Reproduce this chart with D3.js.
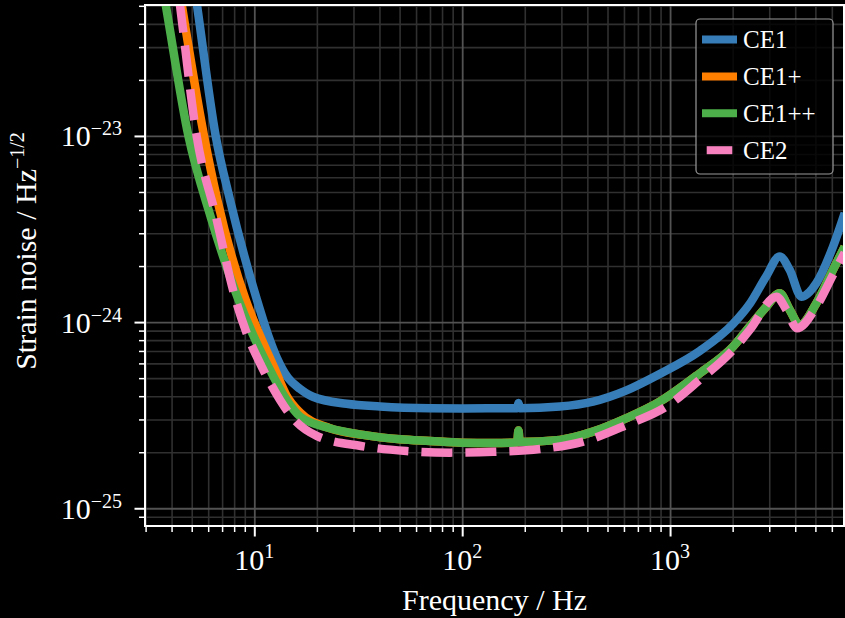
<!DOCTYPE html>
<html>
<head>
<meta charset="utf-8">
<script src="https://cdn.jsdelivr.net/npm/d3@7"></script>
<style>
    html, body { margin: 0; padding: 0; background: #000; }
    svg { display: block; }
    text { font-family: "Liberation Serif", "DejaVu Serif", serif; fill: #fff; }
</style>
</head>
<body>
<div id="chart"></div>
<script>
// --- data (frequency in Hz, strain ASD in Hz^-1/2) ---
const ce1Freq = [4.9, 5.3, 6.52, 7.64, 10.3, 11.64, 12.85, 14.52, 16.59, 19.15, 27.8, 40.2, 70, 100, 176, 184, 186.5, 189, 295, 426, 617, 892, 1389, 2009, 2416, 2907, 3365, 3763, 4282, 5055, 6077, 6918];
const ce1Asd = [9.3e-23, 5.05e-23, 1.0e-23, 4.53e-24, 1.315e-24, 8.54e-25, 6.42e-25, 5.02e-25, 4.38e-25, 3.97e-25, 3.64e-25, 3.52e-25, 3.44e-25, 3.43e-25, 3.45e-25, 3.45e-25, 3.68e-25, 3.45e-25, 3.52e-25, 3.74e-25, 4.30e-25, 5.27e-25, 7.0e-25, 9.78e-25, 1.252e-24, 1.77e-24, 2.25e-24, 1.907e-24, 1.37e-24, 1.62e-24, 2.54e-24, 3.85e-24];

const ce1pFreq = [4.2, 4.48, 5.73, 6.64, 9.09, 10.53, 12.4, 14.31, 16.59, 23.1, 33.4, 50.2, 70, 100, 140, 176, 184, 186.5, 189, 295, 426, 617, 892, 1389, 2009, 2416, 2907, 3365, 3763, 4204, 5055, 6077, 6918];
const ce1pAsd = [7.98e-23, 5.05e-23, 1.0e-23, 4.53e-24, 1.315e-24, 8.72e-25, 5.77e-25, 4.02e-25, 3.27e-25, 2.69e-25, 2.48e-25, 2.35e-25, 2.30e-25, 2.25e-25, 2.24e-25, 2.25e-25, 2.26e-25, 2.62e-25, 2.27e-25, 2.33e-25, 2.58e-25, 3.05e-25, 3.74e-25, 5.31e-25, 7.38e-25, 9.46e-25, 1.211e-24, 1.43e-24, 1.163e-24, 9.66e-25, 1.263e-24, 1.907e-24, 2.54e-24];

const ce1ppFreq = [3.52, 3.75, 4.82, 6.16, 8.40, 9.78, 11.68, 14.3, 16.6, 23.1, 33.4, 50.2, 70, 100, 140, 176, 184, 186.5, 189, 295, 426, 617, 892, 1389, 2009, 2416, 2907, 3365, 3763, 4204, 5055, 6077, 6918];
const ce1ppAsd = [7.6e-23, 5.05e-23, 1.0e-23, 3.69e-24, 1.315e-24, 8.72e-25, 5.77e-25, 3.82e-25, 3.11e-25, 2.69e-25, 2.48e-25, 2.35e-25, 2.30e-25, 2.25e-25, 2.24e-25, 2.25e-25, 2.26e-25, 2.62e-25, 2.27e-25, 2.33e-25, 2.58e-25, 3.05e-25, 3.74e-25, 5.31e-25, 7.38e-25, 9.46e-25, 1.211e-24, 1.43e-24, 1.163e-24, 9.66e-25, 1.263e-24, 1.907e-24, 2.54e-24];

const ce2Freq = [4.11, 4.39, 5.28, 6.54, 8.14, 9.19, 10.85, 13.3, 15.1, 19.95, 32.6, 54.0, 87.3, 141, 236, 382, 617, 962, 1389, 2009, 2416, 3248, 3628, 4079, 5055, 6077, 6918];
const ce2Asd = [9.0e-23, 5.05e-23, 1.0e-23, 3.69e-24, 1.315e-24, 8.72e-25, 5.77e-25, 3.82e-25, 3.11e-25, 2.45e-25, 2.16e-25, 2.03e-25, 1.99e-25, 2.01e-25, 2.08e-25, 2.28e-25, 2.80e-25, 3.52e-25, 4.90e-25, 7.10e-25, 9.08e-25, 1.37e-24, 1.163e-24, 9.27e-25, 1.21e-24, 1.793e-24, 2.36e-24];

const seriesNames = ['CE1', 'CE1+', 'CE1++', 'CE2'];
const seriesColors = ['#377eb8', '#ff7f00', '#4daf4a', '#f781bf'];
const seriesDashed = [false, false, false, true];

const xMajorTicks = [10, 100, 1000];
const xTickExps = ['1', '2', '3'];
const yMajorTicks = [1e-25, 1e-24, 1e-23];
const yTickExps = ['\u221225', '\u221224', '\u221223'];

const xLabel = 'Frequency / Hz';
const yLabel = 'Strain noise / Hz';
const yLabelExp = '\u22121/2';

// --- chart ---
const width = 845;
const height = 618;
const plot = {left: 145, right: 844, top: 5, bottom: 526};

let mySeries = [
    d3.zip(ce1Freq, ce1Asd),
    d3.zip(ce1pFreq, ce1pAsd),
    d3.zip(ce1ppFreq, ce1ppAsd),
    d3.zip(ce2Freq, ce2Asd)
];

let x = d3.scaleLog()
    .domain([2.98, 6865])
    .range([plot.left, plot.right]);

let y = d3.scaleLog()
    .domain([8.03e-26, 5.05e-23])
    .range([plot.bottom, plot.top]);

let xMinor = x.ticks().filter(t => !xMajorTicks.includes(t));
let yMinor = y.ticks().filter(t => !yMajorTicks.some(m => Math.abs(m - t) / m < 1e-6));

let mySVG = d3.select('#chart')
    .append('svg')
        .attr('width', width)
        .attr('height', height)
        .attr('viewBox', [0, 0, width, height]);

mySVG.append('rect')
    .attr('width', width)
    .attr('height', height)
    .attr('fill', '#000');

mySVG.append('defs')
    .append('clipPath')
        .attr('id', 'plotClip')
    .append('rect')
        .attr('x', plot.left)
        .attr('y', plot.top)
        .attr('width', plot.right - plot.left)
        .attr('height', plot.bottom - plot.top);

//grid lines (minor first, major on top)
function gridMkr(ticks, color, w) {
    mySVG.append('g')
        .attr('transform', `translate(0, ${plot.bottom})`)
        .call(d3.axisBottom(x).tickValues(ticks[0]).tickSize(-(plot.bottom - plot.top)).tickFormat(''))
        .call(g => g.select('.domain').remove())
        .selectAll('line')
            .attr('stroke', color)
            .attr('stroke-width', w);
    mySVG.append('g')
        .attr('transform', `translate(${plot.left}, 0)`)
        .call(d3.axisLeft(y).tickValues(ticks[1]).tickSize(-(plot.right - plot.left)).tickFormat(''))
        .call(g => g.select('.domain').remove())
        .selectAll('line')
            .attr('stroke', color)
            .attr('stroke-width', w);
}
gridMkr([xMinor, yMinor], '#303030', 1.6);
gridMkr([xMajorTicks, yMajorTicks], '#525252', 1.8);

//curves
let myLine = d3.line()
    .x(d => x(d[0]))
    .y(d => y(d[1]))
    .curve(d3.curveMonotoneX);

mySVG.append('g')
    .attr('clip-path', 'url(#plotClip)')
    .selectAll('path')
    .data(mySeries)
    .join('path')
        .attr('d', myLine)
        .attr('fill', 'none')
        .attr('stroke', (d, i) => seriesColors[i])
        .attr('stroke-width', 8.5)
        .attr('stroke-linejoin', 'round')
        .attr('stroke-dasharray', (d, i) => seriesDashed[i] ? '31,13' : null);

//ticks
function tickMkr(axis, ticks, len, w, pos) {
    mySVG.append('g')
        .attr('transform', pos)
        .call(axis.tickValues(ticks).tickSize(len).tickFormat(''))
        .call(g => g.select('.domain').remove())
        .selectAll('line')
            .attr('stroke', '#fff')
            .attr('stroke-width', w);
}
tickMkr(d3.axisBottom(x), xMinor, 6, 1.5, `translate(0, ${plot.bottom})`);
tickMkr(d3.axisBottom(x), xMajorTicks, 10.5, 2, `translate(0, ${plot.bottom})`);
tickMkr(d3.axisLeft(y), yMinor, 6, 1.5, `translate(${plot.left}, 0)`);
tickMkr(d3.axisLeft(y), yMajorTicks, 10.5, 2, `translate(${plot.left}, 0)`);

//spines
mySVG.append('rect')
    .attr('x', plot.left)
    .attr('y', plot.top)
    .attr('width', plot.right - plot.left)
    .attr('height', plot.bottom - plot.top)
    .attr('fill', 'none')
    .attr('stroke', '#fff')
    .attr('stroke-width', 2);

//tick labels
let xLabels = mySVG.append('g')
    .selectAll('text')
    .data(xMajorTicks)
    .join('text')
        .attr('x', d => x(d))
        .attr('y', 570)
        .attr('text-anchor', 'middle')
        .style('font-size', '30px');
xLabels.append('tspan').text('10');
xLabels.append('tspan')
    .attr('dy', -12)
    .style('font-size', '20px')
    .text((d, i) => xTickExps[i]);

let yLabels = mySVG.append('g')
    .selectAll('text')
    .data(yMajorTicks)
    .join('text')
        .attr('x', 122)
        .attr('y', d => y(d) + 10.5)
        .attr('text-anchor', 'end')
        .style('font-size', '30px');
yLabels.append('tspan').text('10');
yLabels.append('tspan')
    .attr('dy', -11)
    .style('font-size', '20px')
    .text((d, i) => yTickExps[i]);

//axis titles
mySVG.append('text')
    .attr('x', (plot.left + plot.right) / 2)
    .attr('y', 610)
    .attr('text-anchor', 'middle')
    .style('font-size', '30px')
    .text(xLabel);

let yTitle = mySVG.append('text')
    .attr('transform', 'translate(36, 251) rotate(-90)')
    .attr('text-anchor', 'middle')
    .style('font-size', '30px');
yTitle.append('tspan').text(yLabel);
yTitle.append('tspan')
    .attr('dy', -12)
    .style('font-size', '20px')
    .text(yLabelExp);

//legend
let myLegend = mySVG.append('g');

myLegend.append('rect')
    .attr('x', 696)
    .attr('y', 19)
    .attr('width', 137)
    .attr('height', 155)
    .attr('rx', 4)
    .attr('fill', '#000')
    .attr('fill-opacity', 0.8)
    .attr('stroke', '#999')
    .attr('stroke-width', 1.2);

let legendRows = myLegend.selectAll('g.row')
    .data(seriesNames)
    .join('g')
        .classed('row', true)
        .attr('transform', (d, i) => `translate(0, ${39.5 + i * 36.9})`);

legendRows.append('line')
    .attr('x1', 702)
    .attr('x2', 737)
    .attr('stroke', (d, i) => seriesColors[i])
    .attr('stroke-width', 8)
    .attr('stroke-dasharray', (d, i) => seriesDashed[i] ? '25.6,40' : null)
    .attr('stroke-dashoffset', (d, i) => seriesDashed[i] ? -4.7 : null);

legendRows.append('text')
    .attr('x', 743)
    .attr('y', 8.5)
    .style('font-size', '25px')
    .text(d => d);
</script>
</body>
</html>
